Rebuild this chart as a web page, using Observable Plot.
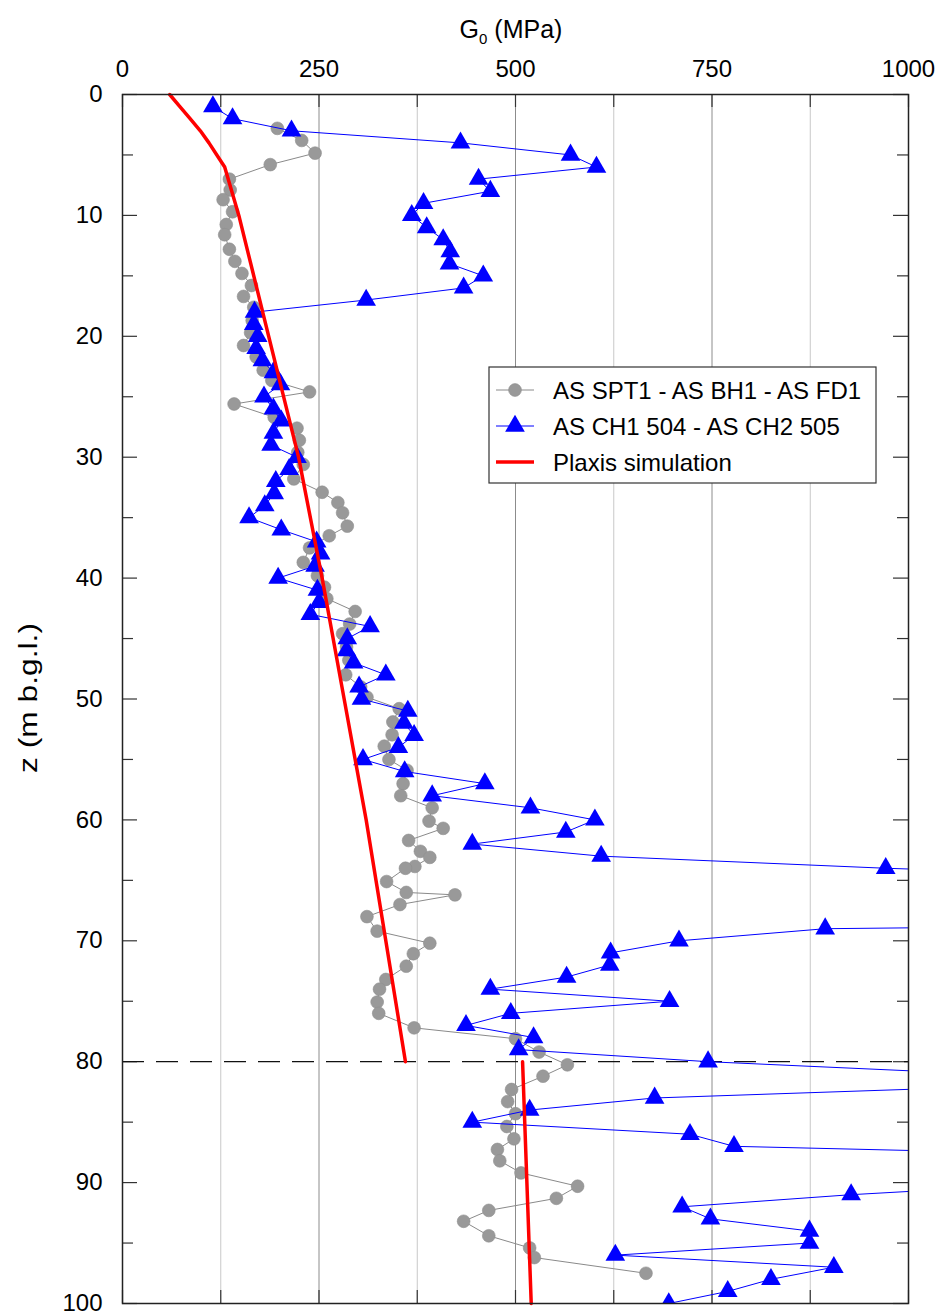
<!DOCTYPE html>
<html>
<head>
<meta charset="utf-8">
<script src="https://cdn.jsdelivr.net/npm/d3@7"></script>
<script src="https://cdn.jsdelivr.net/npm/@observablehq/plot@0.6"></script>
<style>
  html, body { margin: 0; padding: 0; background: #fff; }
  #chart svg { display: block; }
</style>
</head>
<body>
<div id="chart"></div>
<script>
// Depth (m below ground level) and small-strain shear modulus G0 (MPa)

// AS SPT1 - AS BH1 - AS FD1 (grey circles)
const zSPT = [2.8, 3.8, 4.85, 5.8, 7.0, 7.9, 8.7, 9.7, 10.75, 11.6, 12.8, 13.8, 14.8, 15.8, 16.7, 17.6, 18.7, 19.7,
  20.76, 21.7, 22.8, 23.65, 24.6, 25.6, 26.7, 27.6, 28.6, 29.6, 30.6, 31.8, 32.9, 33.75, 34.6, 35.7, 36.5, 37.5,
  38.7, 39.8, 40.75, 41.7, 42.76, 43.8, 44.6, 45.7, 46.8, 48.0, 49.0, 49.85, 50.8, 51.9, 52.96, 53.9, 55.0, 55.9,
  57.0, 58.0, 59.0, 60.1, 60.7, 61.7, 62.6, 63.1, 63.85, 64.0, 65.1, 66.0, 66.2, 67.0, 68.0, 69.2, 70.2, 71.07,
  72.1, 73.2, 74.0, 75.07, 76.0, 77.2, 78.1, 79.2, 80.26, 81.2, 82.3, 83.3, 84.3, 85.36, 86.38, 87.26, 88.2,
  89.2, 90.3, 91.3, 92.3, 93.2, 94.4, 95.4, 96.2, 97.5];
const gSPT = [197, 228, 245, 188, 136, 137, 128, 140, 132, 130, 136, 143, 152, 164, 154, 167, 165, 163,
  154, 170, 179, 190, 238, 142, 193, 222, 225, 223, 230, 218, 254, 274, 280, 286, 263, 238,
  230, 248, 257, 260, 296, 289, 280, 285, 288, 284, 303, 311, 352, 344, 343, 333, 339, 362,
  357, 354, 394, 390, 408, 364, 379, 391, 372, 360, 336, 361, 423, 353, 311, 324, 391, 370,
  361, 335, 327, 324, 326, 371, 500, 530, 566, 535, 495, 490, 500, 489, 498, 477, 480,
  507, 579, 552, 466, 434, 466, 518, 524, 666];

// AS CH1 504 - AS CH2 505 (blue triangles), one value per metre
const zCH = d3.range(1, 101);
const gCH = [115, 140, 215, 430, 570, 603, 453, 468, 383, 368,
  387, 408, 417, 416, 459, 434, 310, 168, 167, 172,
  170, 178, 192, 201, 180, 192, 202, 192, 189, 222,
  212, 195, 193, 181, 161, 202, 247, 252, 245, 198,
  248, 250, 239, 315, 286, 285, 294, 335, 301, 304,
  363, 358, 371, 351, 306, 359, 461, 394, 519, 601,
  564, 445, 609, 971, 1450, 1700, 2000, 2400, 894, 708,
  621, 620, 565, 468, 696, 494, 437, 523, 504, 745,
  1085, 1130, 677, 518, 445, 722, 778, 1430, 1350, 1200,
  927, 712, 748, 874, 874, 627, 905, 825, 770, 695];

// Plaxis simulation (red line), upper and lower layers
const zPlaxisUpper = [0, 1, 2, 3, 4, 5, 6, 10, 20, 30, 40, 50, 60, 70, 80];
const gPlaxisUpper = [60, 73, 86, 99, 110, 120, 130, 148, 186, 224, 254, 282, 310, 335, 360];
const zPlaxisLower = [80, 100];
const gPlaxisLower = [509, 520];

// Layer boundary depth
const zBoundary = [80];

// Axis ticks
const xTickLabels = [0, 250, 500, 750, 1000];
const xTickMarks = [0, 125, 250, 375, 500, 625, 750, 875, 1000];
const xGridMinor = [125, 375, 625, 875];
const xGridMajor = [250, 500, 750];
const yTickLabels = [0, 10, 20, 30, 40, 50, 60, 70, 80, 90, 100];
const yTickMinor = [5, 15, 25, 35, 45, 55, 65, 75, 85, 95];

const legendLabels = ["AS SPT1 - AS BH1 - AS FD1", "AS CH1 504 - AS CH2 505", "Plaxis simulation"];

// Tables built from the arrays above
const spt = zSPT.map((z, i) => ({z, g: gSPT[i]}));
const ch = zCH.map((z, i) => ({z, g: gCH[i]}));
const plaxisUpper = zPlaxisUpper.map((z, i) => ({z, g: gPlaxisUpper[i]}));
const plaxisLower = zPlaxisLower.map((z, i) => ({z, g: gPlaxisLower[i]}));

const W = 940, H = 1313;
const M = {top: 94, right: 32, bottom: 10, left: 122};
const FW = W - M.left - M.right;
const FH = H - M.top - M.bottom;
const FONT = "'Liberation Sans', Arial, Helvetica, sans-serif";
const GREY = "#999999", BLUE = "#0000ff", RED = "#ff0000";
const TRI_R = 7.3, DOT_R = 6.4;

const chart = Plot.plot({
  width: W,
  height: H,
  marginTop: M.top,
  marginRight: M.right,
  marginBottom: M.bottom,
  marginLeft: M.left,
  style: {fontFamily: FONT, fontSize: "24px", color: "#000", background: "#fff", overflow: "visible"},
  x: {domain: [0, 1000]},
  y: {domain: [0, 100], reverse: true},
  marks: [
    // vertical grid
    Plot.ruleX(xGridMinor, {stroke: "#c8c8c8", strokeWidth: 1}),
    Plot.ruleX(xGridMajor, {stroke: "#8c8c8c", strokeWidth: 1}),
    // inward tick marks on all four sides
    Plot.ruleX(xTickMarks, {stroke: "#333", strokeWidth: 1.2, insetBottom: FH - 13}),
    Plot.ruleX(xTickMarks, {stroke: "#333", strokeWidth: 1.2, insetTop: FH - 13}),
    Plot.ruleY(yTickLabels, {stroke: "#333", strokeWidth: 1.2, insetRight: FW - 15}),
    Plot.ruleY(yTickMinor, {stroke: "#333", strokeWidth: 1.2, insetRight: FW - 11}),
    Plot.ruleY(yTickLabels, {stroke: "#333", strokeWidth: 1.2, insetLeft: FW - 15}),
    Plot.ruleY(yTickMinor, {stroke: "#333", strokeWidth: 1.2, insetLeft: FW - 11}),
    // layer boundary
    Plot.ruleY(zBoundary, {stroke: "#111", strokeWidth: 1.3, strokeDasharray: "22,12"}),
    // SPT / BH / FD profile
    Plot.line(spt, {x: "g", y: "z", stroke: "#8a8a8a", strokeWidth: 1}),
    Plot.dot(spt, {x: "g", y: "z", r: DOT_R, fill: GREY, stroke: "#8e8e8e", strokeWidth: 0.6}),
    // cross-hole profile
    Plot.line(ch, {x: "g", y: "z", stroke: BLUE, strokeWidth: 1, clip: true}),
    Plot.dot(ch, {x: "g", y: "z", symbol: "triangle", r: TRI_R, fill: BLUE, clip: true}),
    // Plaxis simulation
    Plot.line(plaxisUpper, {x: "g", y: "z", stroke: RED, strokeWidth: 3.5}),
    Plot.line(plaxisLower, {x: "g", y: "z", stroke: RED, strokeWidth: 3.5}),
    Plot.frame({stroke: "#222", strokeWidth: 1.5}),
    Plot.axisX(xTickLabels, {anchor: "top", tickSize: 0, tickPadding: 18, fontSize: 24, label: null, tickFormat: d => String(d)}),
    Plot.axisY(yTickLabels, {anchor: "left", tickSize: 0, tickPadding: 20, fontSize: 24, label: null, tickFormat: d => String(d)})
  ]
});

document.getElementById("chart").appendChild(chart);

const svg = d3.select(chart);

// x-axis title with subscript
const xTitle = svg.append("text")
  .attr("x", 511).attr("y", 38)
  .attr("text-anchor", "middle")
  .attr("font-family", FONT).attr("font-size", 25).attr("fill", "#000");
xTitle.append("tspan").text("G");
xTitle.append("tspan").attr("font-size", 15).attr("dy", 6).text("0");
xTitle.append("tspan").attr("dy", -6).text(" (MPa)");

// y-axis title
svg.append("text")
  .attr("transform", "translate(37,698) rotate(-90)")
  .attr("text-anchor", "middle")
  .attr("font-family", FONT).attr("font-size", 26).attr("fill", "#000")
  .attr("textLength", 150).attr("lengthAdjust", "spacingAndGlyphs")
  .text("z (m b.g.l.)");

// legend
const lg = svg.append("g").attr("font-family", FONT).attr("font-size", 24).attr("text-anchor", "start");
lg.append("rect").attr("x", 489).attr("y", 367).attr("width", 387).attr("height", 116)
  .attr("fill", "#fff").attr("stroke", "#333").attr("stroke-width", 1.2);
const rows = [390, 426, 462];
lg.append("line").attr("x1", 496).attr("x2", 534).attr("y1", rows[0]).attr("y2", rows[0])
  .attr("stroke", "#8a8a8a").attr("stroke-width", 1);
lg.append("circle").attr("cx", 515).attr("cy", rows[0]).attr("r", DOT_R)
  .attr("fill", GREY).attr("stroke", "#8e8e8e").attr("stroke-width", 0.6);
lg.append("line").attr("x1", 496).attr("x2", 534).attr("y1", rows[1]).attr("y2", rows[1])
  .attr("stroke", BLUE).attr("stroke-width", 1);
lg.append("path").attr("transform", `translate(515,${rows[1]})`)
  .attr("d", d3.symbol(d3.symbolTriangle, Math.PI * TRI_R * TRI_R)())
  .attr("fill", BLUE);
lg.append("line").attr("x1", 496).attr("x2", 534).attr("y1", rows[2]).attr("y2", rows[2])
  .attr("stroke", RED).attr("stroke-width", 3.5);
legendLabels.forEach((t, i) => {
  lg.append("text").attr("x", 553).attr("y", rows[i] + 8.5)
    .attr("text-anchor", "start").attr("fill", "#000").text(t);
});
</script>
</body>
</html>
